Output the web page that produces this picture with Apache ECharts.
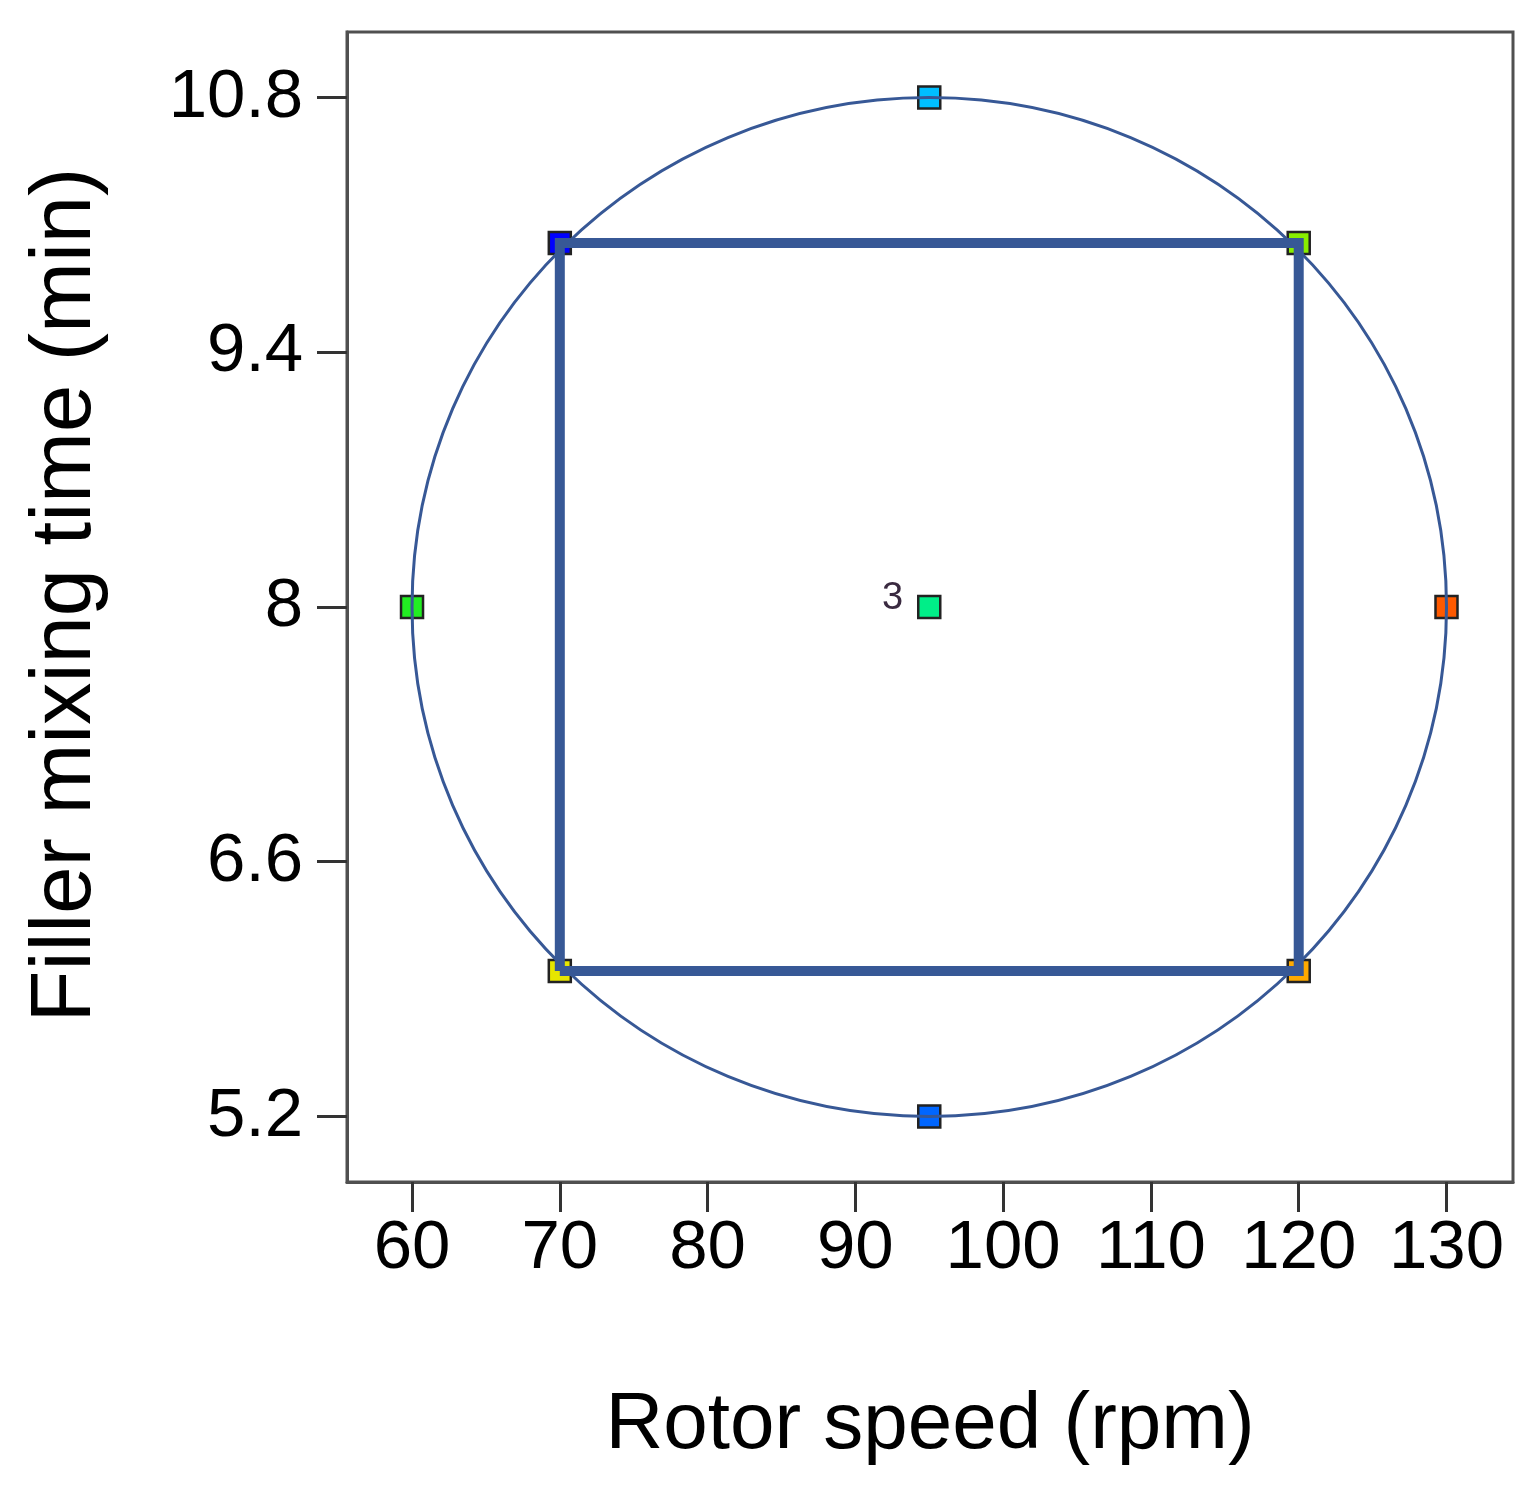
<!DOCTYPE html>
<html>
<head>
<meta charset="utf-8">
<title>Rotor speed vs filler mixing time</title>
<script src="https://cdn.jsdelivr.net/npm/echarts@6.0.0/dist/echarts.min.js"></script>
<style>
  html, body { margin: 0; padding: 0; background: #fff; }
  #chart { width: 1535px; height: 1485px; }
</style>
</head>
<body>
<div id="chart"></div>
<script>
// design points (rotor speed, filler mixing time) and replicate counts
const rotorSpeed = [70, 120, 70, 120, 60, 130, 95, 95, 95];
const mixingTime = [10, 10, 6, 6, 8, 8, 10.8, 5.2, 8];
const replicates = [1, 1, 1, 1, 1, 1, 1, 1, 3];

// factorial box levels and rotatable circle (center + radii)
const speedLevels = [70, 120];
const timeLevels = [6, 10];
const designCenter = [95, 8];
const designRadius = [35, 2.8];

// tick labels
const xTicks = [60, 70, 80, 90, 100, 110, 120, 130];
const yTicks = [5.2, 6.6, 8, 9.4, 10.8];

// marker fill colours, one per design point
const markerColors = ['#0000ff', '#88ee00', '#e6e600', '#ffaa00', '#22ee22', '#ff5a00', '#00bfff', '#0066ff', '#00ee88'];

const FONT = '"Liberation Sans", Arial, sans-serif';
const AXIS_COLOR = '#505050';
const LINE_COLOR = '#375896';

const chart = echarts.init(document.getElementById('chart'));

const points = rotorSpeed.map((x, i) => ({
    value: [x, mixingTime[i]],
    itemStyle: { color: markerColors[i] },
    label: {
        show: replicates[i] > 1,
        formatter: String(replicates[i])
    }
}));

const box = [
    [speedLevels[0], timeLevels[0]],
    [speedLevels[0], timeLevels[1]],
    [speedLevels[1], timeLevels[1]],
    [speedLevels[1], timeLevels[0]],
    [speedLevels[0], timeLevels[0]]
];

const option = {
    animation: false,
    backgroundColor: '#fff',
    grid: {
        left: 347,
        right: 22,
        top: 32,
        bottom: 303,
        containLabel: false,
        outerBoundsMode: 'none',
        show: true,
        borderColor: AXIS_COLOR,
        borderWidth: 3,
        backgroundColor: '#fff'
    },
    xAxis: {
        type: 'value',
        min: 55.6,
        max: 134.5,
        name: 'Rotor speed (rpm)',
        nameLocation: 'middle',
        nameGap: 204,
        nameTextStyle: { fontFamily: FONT, fontSize: 80, color: '#000' },
        axisLine: { lineStyle: { color: AXIS_COLOR, width: 3 } },
        axisTick: { show: true, length: 30, customValues: xTicks, lineStyle: { color: '#333', width: 3 } },
        axisLabel: { customValues: xTicks, margin: 32, fontFamily: FONT, fontSize: 69, color: '#000' },
        splitLine: { show: false }
    },
    yAxis: {
        type: 'value',
        min: 4.84,
        max: 11.16,
        name: 'Filler mixing time (min)',
        nameLocation: 'middle',
        nameGap: 238,
        nameTextStyle: { fontFamily: FONT, fontSize: 85, color: '#000', padding: [0, 0, 0, 24] },
        axisLine: { show: true, lineStyle: { color: AXIS_COLOR, width: 3 } },
        axisTick: { show: true, length: 30, customValues: yTicks, lineStyle: { color: '#333', width: 3 } },
        axisLabel: { customValues: yTicks, margin: 44, fontFamily: FONT, fontSize: 69, color: '#000' },
        splitLine: { show: false }
    },
    series: [
        {
            type: 'scatter',
            z: 2,
            symbol: 'rect',
            symbolSize: 22,
            itemStyle: { borderColor: '#222', borderWidth: 2.5, opacity: 1 },
            label: {
                position: 'left',
                distance: 14,
                offset: [0, -8],
                fontFamily: FONT,
                fontSize: 38,
                color: '#3a2a40'
            },
            data: points
        },
        {
            type: 'custom',
            z: 3,
            silent: true,
            encode: { x: 0, y: 1 },
            renderItem: function (params, api) {
                const c = api.coord([api.value(0), api.value(1)]);
                const s = api.size([api.value(2), api.value(3)]);
                return {
                    type: 'ellipse',
                    shape: { cx: c[0], cy: c[1], rx: s[0], ry: s[1] },
                    style: { fill: 'none', stroke: LINE_COLOR, lineWidth: 3 }
                };
            },
            data: [[designCenter[0], designCenter[1], designRadius[0], designRadius[1]]]
        },
        {
            type: 'line',
            z: 4,
            silent: true,
            showSymbol: false,
            lineStyle: { color: LINE_COLOR, width: 10, join: 'miter' },
            data: box
        }
    ]
};

chart.setOption(option);
window.addEventListener('resize', function () {
    chart.resize();
});
</script>
</body>
</html>
